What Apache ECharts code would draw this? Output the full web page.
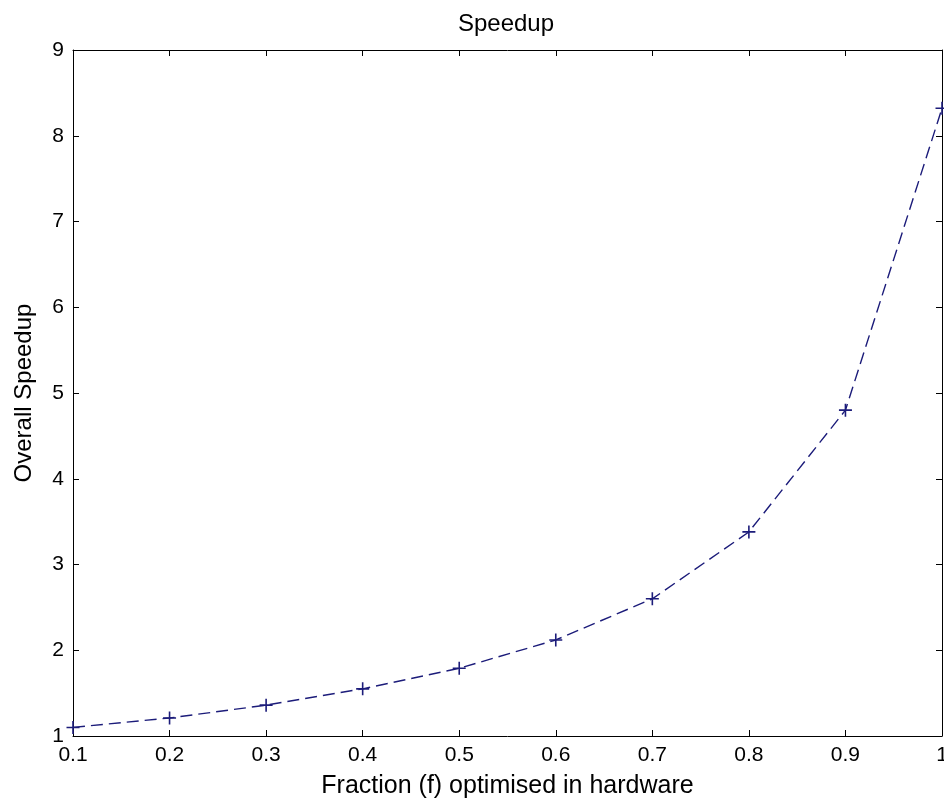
<!DOCTYPE html>
<html>
<head>
<meta charset="utf-8">
<script src="https://cdn.jsdelivr.net/npm/echarts@6/dist/echarts.min.js"></script>
<style>html,body{margin:0;padding:0;background:#fff;}#c{width:944px;height:805px;}</style>
</head>
<body>
<div id="c"></div>
<script>
const fractions = [0.1, 0.2, 0.3, 0.4, 0.5, 0.6, 0.7, 0.8, 0.9, 1.0];
const speedups = [1.10, 1.21, 1.36, 1.55, 1.79, 2.12, 2.60, 3.38, 4.80, 8.32];
const titleText = 'Speedup';
const xLabel = 'Fraction (f) optimised in hardware';
const yLabel = 'Overall Speedup';

const chart = echarts.init(document.getElementById('c'), null, {renderer: 'canvas'});
const font = 'Liberation Sans, Arial, Helvetica, sans-serif';
const fmt = v => String(Math.round(v * 10) / 10);
const plusPath = 'path://M0,5 L10,5 M5,0 L5,10';
const common = {
  axisLine: {show: true, onZero: false, lineStyle: {color: '#000', width: 1}},
  axisTick: {show: true, inside: true, length: 6, lineStyle: {color: '#000'}},
  splitLine: {show: false}
};
chart.setOption({
  animation: false,
  backgroundColor: '#fff',
  title: {
    text: titleText, left: 501, top: 7, textAlign: 'center',
    textStyle: {fontFamily: font, fontSize: 24, fontWeight: 'normal', color: '#000'}
  },
  grid: {left: 73, right: 2, top: 50, bottom: 69, containLabel: false, outerBoundsMode: 'none'},
  xAxis: [
    Object.assign({
      type: 'value', min: 0.1, max: 1, interval: 0.1, position: 'bottom',
      name: xLabel, nameLocation: 'middle', nameGap: 38,
      nameTextStyle: {fontFamily: font, fontSize: 25, color: '#000'},
      axisLabel: {formatter: fmt, fontFamily: font, fontSize: 21, color: '#000', margin: 9}
    }, common),
    Object.assign({
      type: 'value', min: 0.1, max: 1, interval: 0.1, position: 'top',
      axisLabel: {show: false}
    }, common)
  ],
  yAxis: [
    Object.assign({
      type: 'value', min: 1, max: 9, interval: 1, position: 'left',
      name: yLabel, nameLocation: 'middle', nameGap: 37, nameRotate: 90,
      nameTextStyle: {fontFamily: font, fontSize: 24, color: '#000'},
      axisLabel: {fontFamily: font, fontSize: 21, color: '#000', margin: 9}
    }, common),
    Object.assign({
      type: 'value', min: 1, max: 9, interval: 1, position: 'right',
      axisLabel: {show: false}
    }, common)
  ],
  series: [{
    type: 'line',
    data: fractions.map((f, i) => [f, speedups[i]]),
    xAxisIndex: 0, yAxisIndex: 0,
    symbol: plusPath, symbolSize: 13, showAllSymbol: true,
    itemStyle: {color: 'rgba(0,0,0,0)', borderColor: '#1c1c7a', borderWidth: 1.6},
    lineStyle: {color: '#1c1c7a', width: 1.4, type: [12, 6]},
    clip: true
  }]
});
</script>
</body>
</html>
